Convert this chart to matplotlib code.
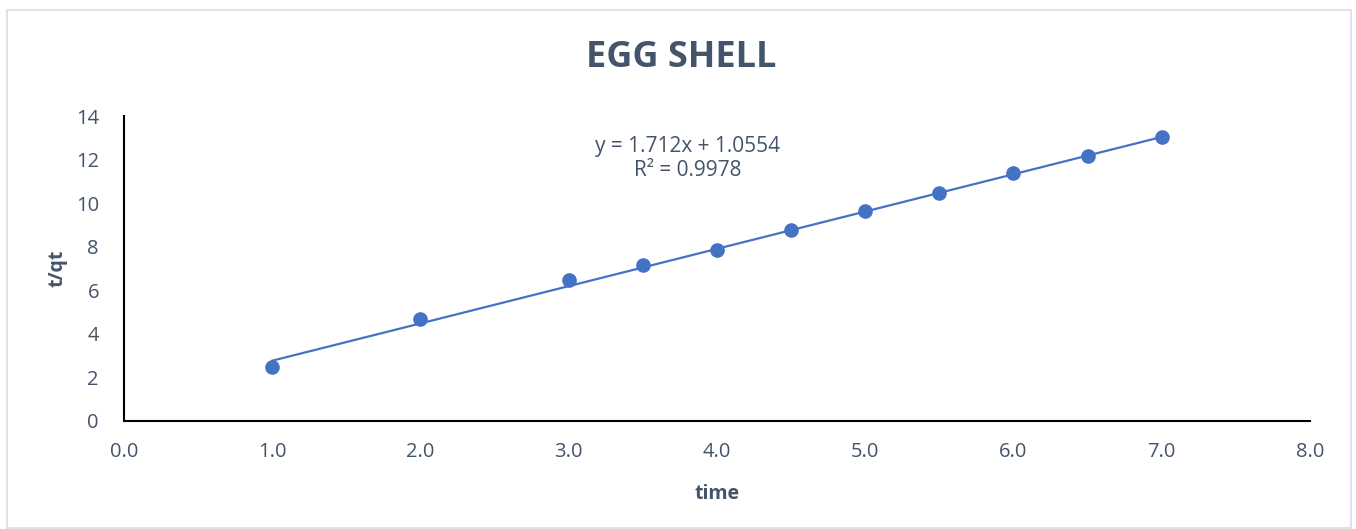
import numpy as np
import matplotlib.pyplot as plt
from matplotlib.patches import Rectangle

plt.rcParams['font.family'] = ['Open Sans', 'DejaVu Sans']

# data
time = [1.0, 2.0, 3.0, 3.5, 4.0, 4.5, 5.0, 5.5, 6.0, 6.5, 7.0]
t_qt = [2.48, 4.68, 6.47, 7.16, 7.85, 8.77, 9.64, 10.46, 11.38, 12.16, 13.03]
slope, intercept = 1.712, 1.0554
r2 = 0.9978

txt_col = "#44546A"
blue = "#4472C4"

fig = plt.figure(figsize=(13.56, 5.29), dpi=100)
fig.patches.append(Rectangle((7 / 1356, 1 / 529), 1344 / 1356, 518 / 529,
                             transform=fig.transFigure, fill=False,
                             edgecolor="#D9DDE3", linewidth=1.2))

ax = fig.add_axes([124 / 1356, 1 - 421 / 529, 1186 / 1356, 305 / 529])

# trendline
xt = np.array([min(time), max(time)])
ax.plot(xt, slope * xt + intercept, color=blue, linewidth=1.6, zorder=2)
ax.plot(time, t_qt, "o", color=blue, markersize=9.5, zorder=3)

ax.set_xlim(0, 8)
ax.set_ylim(0, 14)
ax.set_xticks(np.arange(0, 8.1, 1.0))
ax.set_xticklabels([f"{v:.1f}" for v in np.arange(0, 8.1, 1.0)])
ax.set_yticks(range(0, 15, 2))
ax.tick_params(length=0, labelsize=14.5, labelcolor=txt_col)
ax.tick_params(axis="x", pad=15)
ax.tick_params(axis="y", pad=18)

for s in ["top", "right"]:
    ax.spines[s].set_visible(False)
for s in ["left", "bottom"]:
    ax.spines[s].set_linewidth(1.5)
    ax.spines[s].set_color("black")

ax.set_xlabel("time", fontsize=14, fontweight="bold", color=txt_col, labelpad=16)
ax.set_ylabel("t/qt", fontsize=14, fontweight="bold", color=txt_col, labelpad=6)

ax.text(3.8, 12.05, f"y = {slope}x + {intercept}\nR² = {r2}", ha="center", va="center",
        fontsize=15, color=txt_col, linespacing=1.15)

fig.text(0.502, 1 - 58 / 529, "EGG SHELL", ha="center", va="center",
         fontsize=26, fontweight="bold", color=txt_col)

fig.savefig("out.png", dpi=100)
